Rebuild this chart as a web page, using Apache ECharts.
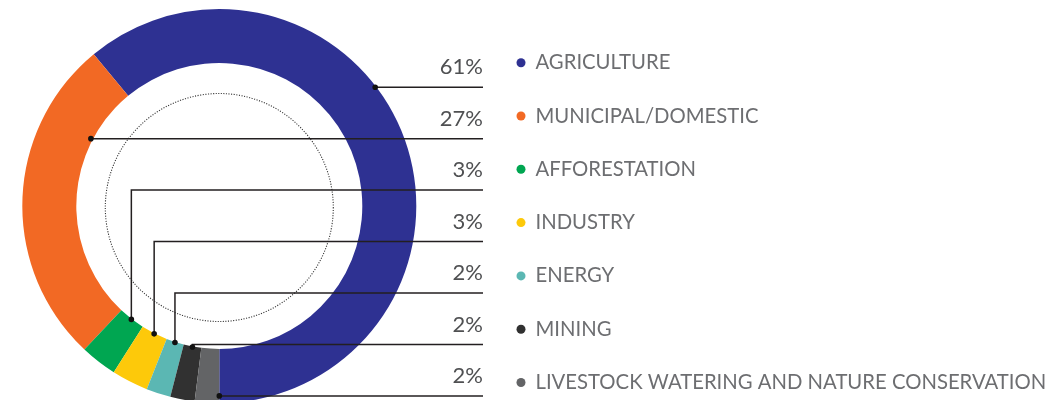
<!DOCTYPE html>
<html><head><meta charset="utf-8">
<script src="https://cdn.jsdelivr.net/npm/echarts@6/dist/echarts.min.js"></script>
<style>html,body{margin:0;padding:0;background:#fff}#c{width:1057px;height:400px}</style>
</head><body><div id="c"></div>
<script>
// ---- data ----
const categories = ['AGRICULTURE','MUNICIPAL/DOMESTIC','AFFORESTATION','INDUSTRY','ENERGY','MINING','LIVESTOCK WATERING AND NATURE CONSERVATION'];
const shares = [61, 27, 3, 3, 2, 2, 2];
const colors = ['#2e3192','#f26924','#00a651','#fdc90a','#5bb7b3','#313131','#636466'];
const leaderModes = ['outerRow','innerRowLeft','elbow','elbow','elbow','elbow','endBoundaryRow'];

// ---- layout ----
const CX = 219.3, CY = 206, R_IN = 143, R_OUT = 197;
const ROW_TOP = 87.2, ROW_GAP = 51.45, LINE_END = 483;
const START = 270;
const total = shares.reduce((a, b) => a + b, 0);
const rad = d => d * Math.PI / 180;

function segAngles(i) {
  let cum = 0;
  for (let k = 0; k < i; k++) cum += shares[k];
  const a0 = START + cum / total * 360;
  return [a0, a0 + shares[i] / total * 360];
}
function anchor(i, rowY) {
  const [a0, a1] = segAngles(i);
  const mode = leaderModes[i];
  const dy = rowY - CY;
  if (mode === 'outerRow') { const r = R_OUT - 1; return [CX + Math.sqrt(r * r - dy * dy), rowY]; }
  if (mode === 'innerRowLeft') { const r = R_IN + 2; return [CX - Math.sqrt(r * r - dy * dy), rowY]; }
  if (mode === 'elbow') { const m = rad((a0 + a1) / 2); const r = R_IN + 0.5; return [CX + r * Math.cos(m), CY - r * Math.sin(m)]; }
  const e = rad(a1); const t = (CY - rowY) / Math.sin(e);
  return [CX + t * Math.cos(e), rowY];
}

const chart = echarts.init(document.getElementById('c'), null, { renderer: 'canvas' });
chart.setOption({
  animation: false,
  backgroundColor: '#ffffff',
  color: colors,
  legend: {
    orient: 'vertical', left: 516.5, top: 52.7, height: 345, padding: 0,
    icon: 'circle', itemWidth: 9, itemHeight: 9, itemGap: 33.3,
    data: categories, selectedMode: false,
    textStyle: { fontFamily: 'Lato', fontSize: 20.3, color: '#6d6e71', lineHeight: 20, padding: [0, 0, 0, 5] }
  },
  graphic: [{
    type: 'circle', silent: true, z: 1,
    shape: { cx: CX, cy: CY + 1.5, r: 114 },
    style: { fill: 'none', stroke: '#333', lineWidth: 1.1, lineDash: [1.1, 1.5] }
  }],
  series: [
    {
      type: 'pie', center: [CX, CY], radius: [R_IN, R_OUT],
      startAngle: START, clockwise: false, silent: true,
      label: { show: false }, labelLine: { show: false },
      data: categories.map((n, i) => ({ name: n, value: shares[i] }))
    },
    {
      type: 'custom', coordinateSystem: 'none', silent: true, z: 10,
      data: shares.map((v, i) => [i, v]),
      renderItem(params, api) {
        const i = api.value(0);
        const rowY = ROW_TOP + ROW_GAP * i;
        const p = anchor(i, rowY);
        return {
          type: 'group', children: [
            { type: 'polyline', shape: { points: [p, [p[0], rowY], [LINE_END, rowY]] },
              style: { stroke: '#231f20', lineWidth: 1.5, fill: 'none' } },
            { type: 'circle', shape: { cx: p[0], cy: p[1], r: 2.8 }, style: { fill: '#111' } },
            { type: 'text', x: LINE_END, y: rowY - 20,
              style: { text: api.value(1) + '%', fill: '#4f5052', fontSize: 22, fontFamily: 'Lato',
                       align: 'right', verticalAlign: 'middle' } }
          ]
        };
      }
    }
  ]
});
</script>
</body></html>
